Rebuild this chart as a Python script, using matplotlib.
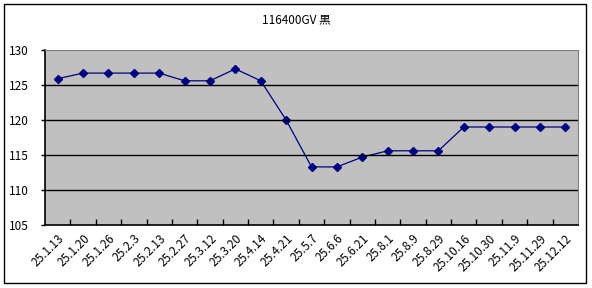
import matplotlib
matplotlib.use("Agg")
import matplotlib.pyplot as plt
from matplotlib.patches import Rectangle

plt.rcParams['font.family'] = ['Noto Sans CJK JP', 'DejaVu Sans']

title = "116400GV 黒"
dates = ["25.1.13", "25.1.20", "25.1.26", "25.2.3", "25.2.13", "25.2.27", "25.3.12",
         "25.3.20", "25.4.14", "25.4.21", "25.5.7", "25.6.6", "25.6.21", "25.8.1",
         "25.8.9", "25.8.29", "25.10.16", "25.10.30", "25.11.9", "25.11.29", "25.12.12"]
prices = [125.9, 126.7, 126.7, 126.7, 126.7, 125.6, 125.6,
          127.3, 125.6, 120.0, 113.3, 113.3, 114.7, 115.6,
          115.6, 115.6, 119.0, 119.0, 119.0, 119.0, 119.0]
yticks = [105, 110, 115, 120, 125, 130]

fig = plt.figure(figsize=(5.92, 2.88), dpi=100)
fig.patches.append(Rectangle((4/592, 5/288), 582/592, 279/288, transform=fig.transFigure,
                             fill=False, edgecolor='black', linewidth=1))
ax = fig.add_axes([45/592, 63/288, 533/592, 175/288])
ax.set_facecolor('#c0c0c0')

x = list(range(len(dates)))
ax.plot(x, prices, color='#000080', linewidth=0.9, marker='D', markersize=4)

ax.set_xlim(-0.5, len(dates) - 0.5)
ax.set_ylim(105, 130)
ax.set_yticks(yticks)
ax.set_yticklabels([str(v) for v in yticks], fontsize=8.5)
for v in yticks[1:-1]:
    ax.axhline(v, color='black', linewidth=1)

ax.set_xticks([i + 0.5 for i in x[:-1]], minor=True)
ax.set_xticks(x)
ax.set_xticklabels(dates, rotation=45, ha='right', va='top', rotation_mode='anchor', fontsize=8.5)
ax.tick_params(axis='x', which='major', length=0, pad=5)
ax.tick_params(axis='x', which='minor', direction='in', length=4, width=1)
ax.tick_params(axis='y', direction='out', length=3, width=1, pad=9)

for s in ['top', 'right']:
    ax.spines[s].set_color('#808080')
for s in ['left', 'bottom']:
    ax.spines[s].set_color('black')
    ax.spines[s].set_linewidth(1.2)

fig.text(296/592, 1 - 20/288, title, ha='center', va='center', fontsize=8.5)

fig.savefig("out.png", dpi=100)
